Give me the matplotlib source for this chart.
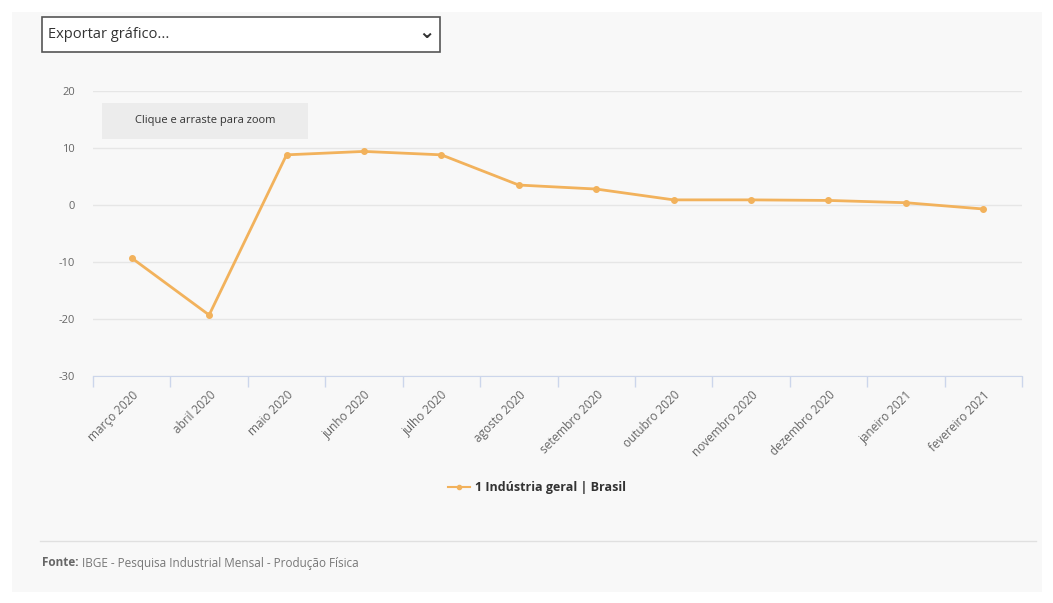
import matplotlib.pyplot as plt
from matplotlib.patches import Rectangle
from matplotlib.lines import Line2D

plt.rcParams['font.family'] = ['Open Sans', 'DejaVu Sans']

meses = ["março 2020", "abril 2020", "maio 2020", "junho 2020", "julho 2020",
         "agosto 2020", "setembro 2020", "outubro 2020", "novembro 2020",
         "dezembro 2020", "janeiro 2021", "fevereiro 2021"]
valores = [-9.3, -19.3, 8.8, 9.4, 8.8, 3.5, 2.8, 0.9, 0.9, 0.8, 0.4, -0.7]
yticks = [-30, -20, -10, 0, 10, 20]

cor = "#f2b25c"
cinza = "#666666"

fig = plt.figure(figsize=(10.53, 6.03), dpi=100)
fig.patch.set_facecolor("white")

# painel de fundo
fig.add_artist(Rectangle((12 / 1053, 1 - 592 / 603), 1030 / 1053, 580 / 603,
                         transform=fig.transFigure, facecolor="#f8f8f8",
                         edgecolor="none", zorder=-10))

ax = fig.add_axes([93 / 1053, 1 - 376 / 603, 929 / 1053, 285 / 603])
ax.set_facecolor("none")

x = list(range(len(meses)))
ax.plot(x, valores, color=cor, linewidth=2, marker="o", markersize=4, zorder=3)

ax.set_xlim(-0.5, len(meses) - 0.5)
ax.set_ylim(-30, 20)
ax.set_yticks(yticks)
ax.set_yticklabels([str(v) for v in yticks], fontsize=8, color=cinza)
ax.grid(axis="y", color="#e6e6e6", linewidth=1)
ax.tick_params(axis="y", length=0, pad=13)

ax.set_xticks(x)
ax.set_xticklabels(meses, rotation=45, ha="right", rotation_mode="anchor",
                   fontsize=8.5, color=cinza)
ax.tick_params(axis="x", which="major", length=0, pad=9)
ax.set_xticks([i - 0.5 for i in range(len(meses) + 1)], minor=True)
ax.tick_params(axis="x", which="minor", length=8, color="#ccd6eb", width=1)

for s in ["top", "right", "left"]:
    ax.spines[s].set_visible(False)
ax.spines["bottom"].set_color("#ccd6eb")

# caixa "Exportar gráfico..."
fig.add_artist(Rectangle((42 / 1053, 1 - 52 / 603), 398 / 1053, 35 / 603,
                         transform=fig.transFigure, facecolor="white",
                         edgecolor="#555555", linewidth=1.2))
fig.text(48 / 1053, 1 - 35 / 603, "Exportar gráfico...", fontsize=10.5,
         color="#333333", va="center")
fig.text(426 / 1053, 1 - 33 / 603, "⌄", fontsize=14, color="#333333",
         va="center", ha="center", fontweight="bold",
         family=["DejaVu Sans"])

# caixa de zoom
fig.add_artist(Rectangle((102 / 1053, 1 - 139 / 603), 206 / 1053, 36 / 603,
                         transform=fig.transFigure, facecolor="#ececec",
                         edgecolor="none"))
fig.text(205 / 1053, 1 - 121 / 603, "Clique e arraste para zoom", fontsize=8,
         color="#333333", va="center", ha="center")

# legenda
handle = Line2D([], [], color=cor, linewidth=1.5, marker="o", markersize=3)
fig.legend([handle], ["1 Indústria geral | Brasil"], loc="center",
           bbox_to_anchor=(537 / 1053, 1 - 488 / 603), frameon=False,
           prop={"size": 9, "weight": "bold"}, handlelength=1.8,
           handletextpad=0.4, labelcolor="#333333")

# rodapé
fig.add_artist(Line2D([40 / 1053, 1036 / 1053], [1 - 541 / 603, 1 - 541 / 603],
                      transform=fig.transFigure, color="#e0e0e0", linewidth=1))
fig.text(42 / 1053, 1 - 563 / 603, "Fonte:", fontsize=8.5, fontweight="bold",
         color="#666666", va="center")
fig.text(82 / 1053, 1 - 563 / 603,
         "IBGE - Pesquisa Industrial Mensal - Produção Física",
         fontsize=8.5, color="#777777", va="center")

fig.savefig("out.png", dpi=100)
